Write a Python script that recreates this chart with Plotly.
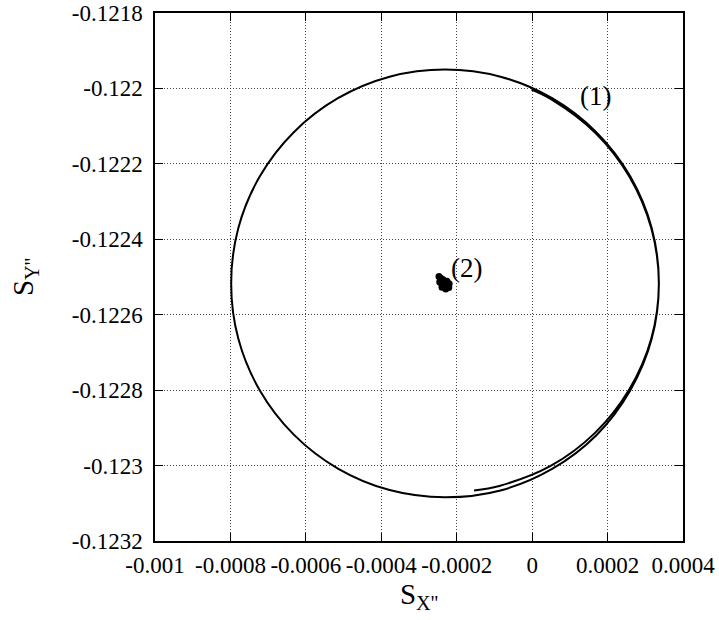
import plotly.graph_objects as go

# Trajectory (1), roughly 1.35 turns
traj_x = [-0.000154, -0.000087, 0.000049, 0.000166, 0.000257, 0.000316, 0.000336,
          0.000317, 0.000260, 0.000170, 0.000053, -0.000084, -0.000231, -0.000378,
          -0.000515, -0.000632, -0.000722, -0.000779, -0.000798, -0.000779, -0.000722,
          -0.000632, -0.000515, -0.000378, -0.000231, -0.000084, 0.000053, 0.000171,
          0.000260, 0.000317, 0.000336, 0.000316, 0.000258, 0.000168, 0.000051, -0.000002]
traj_y = [-0.123066, -0.123054, -0.123001, -0.122914, -0.122799, -0.122663, -0.122517,
          -0.122370, -0.122233, -0.122116, -0.122026, -0.121969, -0.121950, -0.121969,
          -0.122026, -0.122116, -0.122233, -0.122370, -0.122517, -0.122664, -0.122801,
          -0.122918, -0.123008, -0.123065, -0.123084, -0.123066, -0.123009, -0.122919,
          -0.122801, -0.122664, -0.122517, -0.122371, -0.122234, -0.122118, -0.122029, -0.122003]

# Trajectory (2): small blob near the centre
blob_x = [-0.000247, -0.000242, -0.000236, -0.000226, -0.000220, -0.000221,
          -0.000229, -0.000239, -0.000245, -0.000236, -0.000228]
blob_y = [-0.122499, -0.122503, -0.122507, -0.122511, -0.122518, -0.122528,
          -0.122532, -0.122527, -0.122513, -0.122520, -0.122522]

x_tickvals = [-0.001, -0.0008, -0.0006, -0.0004, -0.0002, 0, 0.0002, 0.0004]
x_ticktext = ["-0.001", "-0.0008", "-0.0006", "-0.0004", "-0.0002", "0", "0.0002", "0.0004"]
y_tickvals = [-0.1218, -0.122, -0.1222, -0.1224, -0.1226, -0.1228, -0.123, -0.1232]
y_ticktext = ["-0.1218", "-0.122", "-0.1222", "-0.1224", "-0.1226", "-0.1228", "-0.123", "-0.1232"]

labels = ["(1)", "(2)"]
label_x = [0.000167, -0.000175]
label_y = [-0.12202, -0.122476]

FONT = "Liberation Serif, Times New Roman, serif"

fig = go.Figure()
fig.add_trace(go.Scatter(x=traj_x, y=traj_y, mode="lines",
                         line=dict(color="black", width=2, shape="spline", smoothing=1.0),
                         showlegend=False, hoverinfo="skip"))
fig.add_trace(go.Scatter(x=blob_x, y=blob_y, mode="lines+markers",
                         line=dict(color="black", width=5),
                         marker=dict(color="black", size=7),
                         showlegend=False, hoverinfo="skip"))

for t, lx, ly in zip(labels, label_x, label_y):
    fig.add_annotation(x=lx, y=ly, text=t, showarrow=False,
                       font=dict(family=FONT, size=27, color="black"))

axis_common = dict(
    showline=True, linecolor="black", linewidth=1.5, mirror="allticks",
    ticks="inside", ticklen=8, tickcolor="black", tickwidth=1,
    showgrid=True, gridcolor="#444444", griddash="1px,2px", gridwidth=1,
    zeroline=False, tickfont=dict(family=FONT, size=23, color="black"),
    tickangle=0, ticklabeloverflow="allow",
)

fig.update_xaxes(range=[-0.001, 0.0004], tickvals=x_tickvals, ticktext=x_ticktext,
                 ticklabelstandoff=3,
                 title=dict(text="S<sub>X''</sub>", font=dict(family=FONT, size=29, color="black"),
                            standoff=6),
                 **axis_common)
fig.update_yaxes(range=[-0.1232, -0.1218], tickvals=y_tickvals, ticktext=y_ticktext,
                 ticklabelstandoff=6,
                 title=dict(text="S<sub>Y''</sub>", font=dict(family=FONT, size=29, color="black"),
                            standoff=30),
                 **axis_common)

fig.update_layout(width=719, height=620,
                  margin=dict(l=155, r=36, t=13, b=79, autoexpand=False),
                  plot_bgcolor="white", paper_bgcolor="white",
                  font=dict(family=FONT, color="black"))

# remove the browser's default body margin so the figure fills the window
fig.write_html("out.html", config={"displayModeBar": False},
               post_script="document.body.style.margin='0';document.body.style.overflow='hidden';")
